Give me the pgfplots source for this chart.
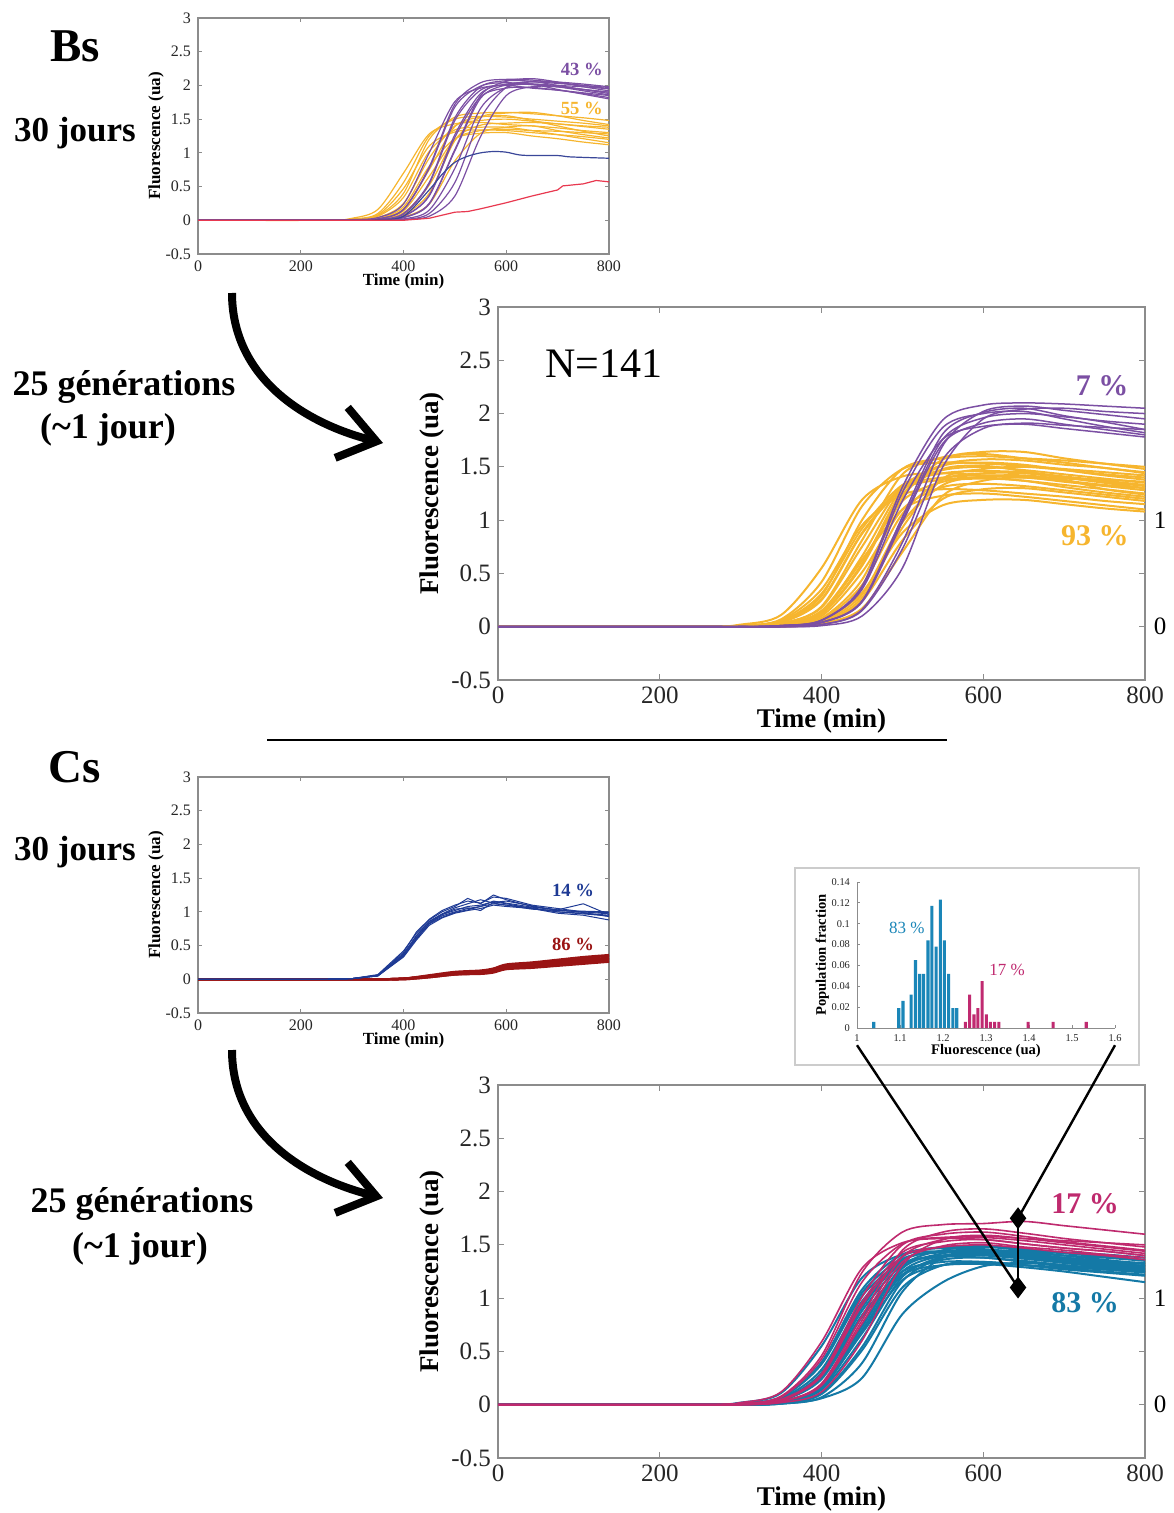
\documentclass[border=0pt]{standalone}
\usepackage{fontspec}
\setmainfont{Liberation Serif}
\usepackage{pgfplots}
\usepackage{pgfplotstable}
\pgfplotsset{compat=1.18}
\usetikzlibrary{arrows.meta}

\definecolor{cPur}{HTML}{7B4FA3}
\definecolor{cYel}{HTML}{F6B52E}
\definecolor{cBlu1}{HTML}{3A4799}
\definecolor{cRed1}{HTML}{E8384F}
\definecolor{cNavy}{HTML}{1E3A94}
\definecolor{cDred}{HTML}{9A1414}
\definecolor{cTeal}{HTML}{1479A6}
\definecolor{cMag}{HTML}{BF2A6E}
\definecolor{hBlu}{HTML}{1A86B8}
\definecolor{hMag}{HTML}{C02A70}

% ---------- data: one row per curve, transposed below ----------
\pgfplotstableread{
id 0 250 300 350 400 450 500 550 600 650 700 750 800
1 0 0 0.01 0.04 0.24 1.00 1.76 1.96 2.00 1.96 1.93 1.89 1.85
2 0 0 0.00 0.02 0.16 0.77 1.68 1.99 2.04 2.01 1.98 1.94 1.90
3 0 0 0 0.01 0.09 0.54 1.48 1.93 2.01 2.02 2.00 1.98 1.95
4 0 0 0 0.01 0.10 0.56 1.52 1.98 2.07 2.06 2.00 1.94 1.88
5 0 0 0 0.01 0.06 0.36 1.23 1.83 1.96 1.97 1.93 1.88 1.82
6 0 0 0 0.01 0.04 0.24 1.03 1.81 2.01 2.05 2.03 2.00 1.97
7 0 0 0 0.01 0.04 0.25 1.05 1.85 2.06 2.10 2.05 1.98 1.92
8 0 0 0 0 0.02 0.15 0.77 1.66 1.97 2.02 1.98 1.92 1.86
9 0 0 0 0 0.01 0.10 0.56 1.51 1.97 2.06 2.05 2.02 1.98
10 0 0 0 0 0.01 0.06 0.36 1.24 1.85 1.98 1.98 1.94 1.90
11 0 0 0 0.02 0.16 0.79 1.72 2.04 2.09 2.08 2.04 2.00 1.95
12 0 0 0 0.01 0.06 0.37 1.27 1.88 2.02 2.02 1.94 1.87 1.80
}\rawBsSP
\pgfplotstableread{
id 0 250 300 350 400 450 500 550 600 650 700 750 800
1 0 0 0.03 0.16 0.70 1.28 1.43 1.45 1.42 1.40 1.37 1.33 1.30
2 0 0 0.02 0.10 0.56 1.25 1.50 1.54 1.53 1.50 1.47 1.44 1.40
3 0 0 0.01 0.08 0.47 1.10 1.31 1.34 1.33 1.30 1.27 1.24 1.20
4 0 0 0.01 0.07 0.40 1.20 1.53 1.59 1.60 1.58 1.55 1.52 1.48
5 0 0 0.01 0.06 0.34 1.02 1.34 1.38 1.38 1.33 1.27 1.21 1.15
6 0 0 0.01 0.04 0.25 0.92 1.40 1.48 1.50 1.47 1.43 1.39 1.35
7 0 0 0 0.03 0.20 0.80 1.21 1.29 1.30 1.25 1.21 1.16 1.12
8 0 0 0 0.03 0.17 0.75 1.39 1.53 1.55 1.48 1.40 1.32 1.25
9 0 0 0 0.02 0.11 0.52 1.20 1.41 1.44 1.45 1.43 1.40 1.38
10 0 0 0 0.01 0.08 0.40 1.18 1.53 1.59 1.60 1.55 1.48 1.42
11 0 0 0 0.01 0.05 0.24 0.88 1.29 1.38 1.40 1.33 1.27 1.22
12 0 0 0 0.03 0.14 0.65 1.20 1.33 1.35 1.33 1.32 1.30 1.28
}\rawBsSY
\pgfplotstableread{
id 0 250 300 350 400 450 500 550 600 650 700 750 800
1 0 0 0.02 0.11 0.55 1.19 1.41 1.44 1.42 1.40 1.37 1.33 1.30
2 0 0 0.01 0.07 0.42 1.13 1.48 1.54 1.53 1.51 1.48 1.45 1.42
3 0 0 0.01 0.06 0.35 0.95 1.24 1.29 1.28 1.25 1.22 1.18 1.15
4 0 0 0.01 0.05 0.29 1.00 1.48 1.58 1.60 1.58 1.56 1.53 1.50
5 0 0 0.01 0.04 0.25 0.87 1.29 1.38 1.40 1.37 1.33 1.29 1.25
6 0 0 0 0.03 0.18 0.75 1.32 1.47 1.50 1.47 1.43 1.39 1.35
7 0 0 0 0.02 0.15 0.63 1.10 1.23 1.25 1.22 1.18 1.14 1.10
8 0 0 0 0.03 0.19 0.81 1.43 1.59 1.62 1.58 1.54 1.49 1.45
9 0 0 0 0.01 0.10 0.51 1.10 1.31 1.34 1.32 1.28 1.24 1.20
10 0 0 0 0.02 0.12 0.59 1.27 1.51 1.54 1.52 1.47 1.42 1.38
11 0 0 0 0.01 0.07 0.39 1.06 1.38 1.44 1.44 1.40 1.36 1.32
12 0 0 0 0.01 0.06 0.32 0.88 1.14 1.19 1.19 1.15 1.11 1.08
13 0 0 0 0.01 0.04 0.27 0.93 1.39 1.48 1.50 1.47 1.43 1.40
14 0 0 0 0.01 0.04 0.24 0.81 1.20 1.29 1.30 1.26 1.22 1.18
15 0 0 0 0 0.03 0.17 0.70 1.23 1.37 1.40 1.36 1.32 1.28
16 0 0 0.01 0.04 0.26 0.88 1.31 1.40 1.42 1.41 1.39 1.38 1.36
17 0 0 0 0.02 0.12 0.57 1.24 1.48 1.51 1.46 1.40 1.35 1.30
18 0 0 0 0.01 0.08 0.44 1.21 1.57 1.64 1.64 1.58 1.53 1.48
19 0 0 0.01 0.05 0.31 0.92 1.33 1.44 1.46 1.45 1.41 1.37 1.33
20 0 0 0 0.02 0.14 0.62 1.18 1.36 1.39 1.37 1.31 1.26 1.22
21 0 0 0 0.02 0.13 0.66 1.30 1.52 1.57 1.56 1.52 1.49 1.44
22 0 0 0 0.01 0.05 0.30 0.98 1.33 1.41 1.42 1.38 1.29 1.24
}\rawBsBY
\pgfplotstableread{
id 0 250 300 350 400 450 500 550 600 650 700 750 800
1 0 0 0 0.01 0.06 0.38 1.31 1.94 2.08 2.10 2.09 2.07 2.05
2 0 0 0 0.01 0.04 0.24 1.03 1.81 2.01 2.05 1.98 1.92 1.85
3 0 0 0 0 0.04 0.23 0.98 1.72 1.91 1.95 1.90 1.85 1.80
4 0 0 0 0 0.02 0.16 0.79 1.70 2.02 2.07 2.03 1.99 1.95
5 0 0 0 0.01 0.06 0.35 1.18 1.76 1.88 1.90 1.86 1.82 1.78
6 0 0 0 0 0.04 0.24 1.00 1.76 1.96 2.00 1.97 1.93 1.90
7 0 0 0 0 0.02 0.15 0.73 1.57 1.86 1.91 1.89 1.87 1.85
8 0 0 0 0 0.01 0.10 0.55 1.50 1.95 2.04 2.05 2.02 2.00
9 0 0 0 0.01 0.06 0.37 1.26 1.87 2.00 2.02 1.95 1.88 1.82
}\rawBsBP
\pgfplotstableread{
id 0 250 300 350 400 425 450 475 500 525 550 575 600 650 700 750 800
1 0 0 0.01 0.06 0.38 0.64 0.85 0.96 1.02 1.08 1.10 1.15 1.12 1.05 1.00 0.98 0.95
2 0 0 0.01 0.05 0.35 0.60 0.83 0.94 1.00 1.05 1.08 1.12 1.10 1.04 1.02 1.00 0.97
3 0 0 0.01 0.07 0.42 0.68 0.88 1.00 1.08 1.20 1.12 1.25 1.18 1.08 1.03 1.12 0.96
4 0 0 0.01 0.05 0.33 0.58 0.80 0.91 0.98 1.02 1.05 1.10 1.08 1.05 0.98 0.95 0.88
5 0 0 0.01 0.06 0.40 0.70 0.89 1.02 1.10 1.16 1.13 1.22 1.20 1.10 1.05 1.00 0.99
6 0 0 0.01 0.05 0.36 0.62 0.83 0.96 1.04 1.06 1.02 1.14 1.16 1.09 1.02 1.01 1.00
7 0 0 0.01 0.06 0.37 0.65 0.86 0.97 1.06 1.12 1.18 1.13 1.10 1.06 1.00 0.97 0.94
8 0 0 0.01 0.05 0.34 0.60 0.82 0.92 0.99 1.03 1.08 1.16 1.13 1.07 1.03 0.99 0.93
}\rawCsSB
\pgfplotstableread{
id 0 250 350 400 450 500 550 575 600 650 700 750 800
1 0 0 0 0.01 0.04 0.08 0.10 0.12 0.17 0.19 0.22 0.25 0.28
2 0 0 0 0.01 0.05 0.09 0.11 0.13 0.18 0.21 0.24 0.27 0.30
3 0 0 0 0.00 0.03 0.07 0.09 0.11 0.16 0.18 0.21 0.24 0.27
4 0 0 0 0.01 0.05 0.10 0.12 0.15 0.21 0.24 0.27 0.31 0.35
5 0 0 0 0.01 0.04 0.09 0.10 0.12 0.19 0.22 0.25 0.29 0.32
6 0 0 0 0.00 0.03 0.07 0.08 0.10 0.15 0.17 0.20 0.23 0.26
7 0 0 0 0.01 0.06 0.11 0.13 0.16 0.22 0.25 0.29 0.33 0.36
8 0 0 0 0.01 0.04 0.08 0.11 0.14 0.19 0.21 0.24 0.28 0.31
}\rawCsSR
\pgfplotstableread{
id 0 250 300 350 400 450 500 550 600 650 700 750 800
1 0 0 0.02 0.11 0.55 1.19 1.41 1.44 1.42 1.39 1.36 1.33 1.30
2 0 0 0.01 0.07 0.38 1.02 1.33 1.39 1.38 1.35 1.31 1.28 1.25
3 0 0 0.01 0.07 0.40 1.08 1.41 1.47 1.46 1.43 1.40 1.38 1.35
4 0 0 0.01 0.04 0.26 0.88 1.31 1.40 1.41 1.38 1.34 1.31 1.28
5 0 0 0.01 0.04 0.25 0.84 1.25 1.34 1.34 1.31 1.28 1.25 1.22
6 0 0 0.01 0.04 0.27 0.93 1.39 1.48 1.49 1.46 1.43 1.41 1.38
7 0 0 0 0.03 0.17 0.73 1.28 1.42 1.45 1.41 1.37 1.34 1.30
8 0 0 0 0.02 0.16 0.69 1.22 1.36 1.38 1.34 1.31 1.27 1.24
9 0 0 0 0.03 0.18 0.74 1.30 1.45 1.48 1.45 1.42 1.39 1.36
10 0 0 0 0.02 0.11 0.54 1.16 1.38 1.41 1.38 1.34 1.30 1.27
11 0 0 0 0.01 0.10 0.51 1.10 1.31 1.34 1.31 1.27 1.24 1.21
12 0 0 0 0.01 0.07 0.39 1.06 1.38 1.44 1.44 1.40 1.36 1.32
13 0 0 0.01 0.07 0.39 1.05 1.37 1.43 1.43 1.41 1.38 1.35 1.33
14 0 0 0 0.02 0.16 0.67 1.17 1.31 1.33 1.31 1.29 1.27 1.25
15 0 0 0.01 0.04 0.27 0.91 1.35 1.44 1.45 1.41 1.37 1.34 1.30
16 0 0 0.01 0.04 0.24 0.82 1.22 1.31 1.32 1.29 1.25 1.20 1.15
17 0 0 0 0.01 0.06 0.25 0.85 1.15 1.30 1.33 1.30 1.27 1.25
18 0 0 0.01 0.05 0.30 0.95 1.36 1.44 1.44 1.40 1.35 1.31 1.27
19 0 0 0 0.02 0.15 0.70 1.25 1.40 1.42 1.39 1.35 1.32 1.29
20 0 0 0.01 0.06 0.33 0.97 1.32 1.39 1.40 1.37 1.33 1.29 1.26
21 0 0 0 0.02 0.14 0.62 1.20 1.39 1.43 1.42 1.38 1.35 1.32
}\rawCsBB
\pgfplotstableread{
id 0 250 300 350 400 450 500 550 600 650 700 750 800
1 0 0 0.01 0.07 0.43 1.15 1.51 1.57 1.57 1.54 1.50 1.46 1.42
2 0 0 0.01 0.05 0.29 1.01 1.50 1.60 1.62 1.58 1.53 1.49 1.45
3 0 0 0.01 0.04 0.28 0.96 1.43 1.53 1.55 1.51 1.47 1.44 1.40
4 0 0 0 0.03 0.20 0.83 1.45 1.62 1.65 1.61 1.56 1.52 1.48
5 0 0 0 0.03 0.18 0.76 1.34 1.49 1.52 1.48 1.45 1.41 1.38
6 0 0 0 0.02 0.12 0.60 1.31 1.55 1.59 1.56 1.52 1.48 1.44
7 0 0 0.01 0.08 0.46 1.24 1.62 1.69 1.70 1.72 1.68 1.64 1.60
8 0 0 0.02 0.12 0.59 1.28 1.52 1.56 1.55 1.51 1.47 1.44 1.40
9 0 0 0 0.03 0.19 0.79 1.39 1.55 1.58 1.56 1.54 1.52 1.50
10 0 0 0.01 0.04 0.27 0.93 1.39 1.48 1.50 1.47 1.43 1.40 1.36
}\rawCsBM

\pgfplotstabletranspose[colnames from=id]\BsSP\rawBsSP
\pgfplotstabletranspose[colnames from=id]\BsSY\rawBsSY
\pgfplotstabletranspose[colnames from=id]\BsBY\rawBsBY
\pgfplotstabletranspose[colnames from=id]\BsBP\rawBsBP
\pgfplotstabletranspose[colnames from=id]\CsSB\rawCsSB
\pgfplotstabletranspose[colnames from=id]\CsSR\rawCsSR
\pgfplotstabletranspose[colnames from=id]\CsBB\rawCsBB
\pgfplotstabletranspose[colnames from=id]\CsBM\rawCsBM

\pgfplotsset{
  /pgf/number format/assume math mode=true,
  curveaxis/.style={
    scale only axis, clip=false,
    xmin=0, xmax=800, ymin=-0.5, ymax=3,
    xtick={0,200,400,600,800},
    ytick={-0.5,0,0.5,1,1.5,2,2.5,3},
    tick align=inside,
    axis line style={draw=black!45, line width=0.6pt},
    tick style={draw=black!45, line width=0.5pt},
    tick label style={color=black!85},
    xlabel={\textbf{Time (min)}},
    ylabel={\textbf{Fluorescence (ua)}},
  },
  bigaxis/.style={curveaxis, width=323.5pt, height=186.5pt,
    major tick length=3pt,
    tick label style={font=\fontsize{12.5}{14}\selectfont},
    label style={font=\fontsize{13.5}{15}\selectfont},
    x label style={at={(axis description cs:0.5,-0.11)}, anchor=center},
    y label style={at={(axis description cs:-0.102,0.5)}, anchor=center},
  },
  smallaxis/.style={curveaxis, width=205.5pt, height=118pt,
    major tick length=2pt,
    tick label style={font=\fontsize{8}{9}\selectfont},
    label style={font=\fontsize{8.5}{10}\selectfont},
    x label style={at={(axis description cs:0.5,-0.118)}, anchor=center},
    y label style={at={(axis description cs:-0.102,0.5)}, anchor=center},
  },
}

\begin{document}
\begin{tikzpicture}
\path[use as bounding box] (0pt,0pt) rectangle (586.5pt,-756.5pt);

% ===== Bs, 30 jours =====
\begin{axis}[smallaxis, at={(99pt,-127pt)}, anchor=south west]
\pgfplotsinvokeforeach{1,...,12}{\addplot[cYel, line width=0.6pt, smooth] table[x=colnames, y index=#1]{\BsSY};}
\pgfplotsinvokeforeach{1,...,12}{\addplot[cPur, line width=0.6pt, smooth] table[x=colnames, y index=#1]{\BsSP};}
\addplot[cBlu1, line width=0.6pt, smooth] coordinates {(0,0)(300,0)(350,0.01)(400,0.06)(450,0.45)(475,0.68)(500,0.86)(525,0.95)(550,1.00)(575,1.02)(600,1.01)(625,0.97)(650,0.96)(700,0.96)(725,0.94)(800,0.92)};
\addplot[cRed1, line width=0.6pt] coordinates {(0,0)(400,0)(450,0.03)(500,0.12)(525,0.13)(550,0.17)(600,0.26)(650,0.36)(700,0.45)(710,0.51)(750,0.54)(775,0.59)(800,0.57)};
\node[text=cPur, font=\fontsize{9.3}{10}\selectfont\bfseries] at (axis cs:747,2.23) {43 \%};
\node[text=cYel, font=\fontsize{9.3}{10}\selectfont\bfseries] at (axis cs:747,1.665) {55 \%};
\end{axis}

% ===== Bs, 25 generations =====
\begin{axis}[bigaxis, at={(249pt,-340pt)}, anchor=south west]
\pgfplotsinvokeforeach{1,...,22}{\addplot[cYel, line width=1.0pt, smooth] table[x=colnames, y index=#1]{\BsBY};}
\pgfplotsinvokeforeach{1,...,9}{\addplot[cPur, line width=0.75pt, smooth] table[x=colnames, y index=#1]{\BsBP};}
\node[anchor=west, font=\fontsize{21}{23}\selectfont] at (axis cs:49.4,2.47) {N=141};
\node[text=cPur, font=\fontsize{15}{17}\selectfont\bfseries] at (axis cs:747,2.26) {7 \%};
\node[text=cYel, font=\fontsize{15}{17}\selectfont\bfseries] at (axis cs:738,0.85) {93 \%};
\node[font=\fontsize{12.5}{14}\selectfont, xshift=7.5pt] at (axis cs:800,1) {1};
\node[font=\fontsize{12.5}{14}\selectfont, xshift=7.5pt] at (axis cs:800,0) {0};
\end{axis}

% ===== Cs, 30 jours =====
\begin{axis}[smallaxis, at={(99pt,-506.5pt)}, anchor=south west]
\pgfplotsinvokeforeach{1,...,8}{\addplot[cDred, line width=1.1pt, smooth] table[x=colnames, y index=#1]{\CsSR};}
\pgfplotsinvokeforeach{1,...,8}{\addplot[cNavy, line width=0.5pt] table[x=colnames, y index=#1]{\CsSB};}
\node[text=cNavy, font=\fontsize{9.3}{10}\selectfont\bfseries] at (axis cs:730,1.32) {14 \%};
\node[text=cDred, font=\fontsize{9.3}{10}\selectfont\bfseries] at (axis cs:730,0.52) {86 \%};
\end{axis}

% ===== inset histogram =====
\draw[black!20, line width=0.8pt, fill=white] (397.5pt,-434pt) rectangle (569.5pt,-532.5pt);
\begin{axis}[scale only axis, width=129pt, height=73pt, at={(428.5pt,-514pt)}, anchor=south west,
  xmin=1, xmax=1.6, ymin=0, ymax=0.14, clip=false,
  axis lines*=left, axis line style={draw=black!45, line width=0.5pt},
  tick style={draw=black!45, line width=0.4pt}, major tick length=1.5pt, tick align=inside,
  xtick={1,1.1,1.2,1.3,1.4,1.5,1.6}, ytick={0,0.02,0.04,0.06,0.08,0.1,0.12,0.14},
  scaled ticks=false,
  tick label style={font=\fontsize{5.2}{6}\selectfont, color=black!85, /pgf/number format/fixed},
  xlabel={\textbf{Fluorescence (ua)}}, ylabel={\textbf{Population fraction}},
  label style={font=\fontsize{7.3}{8}\selectfont},
  x label style={at={(axis description cs:0.5,-0.16)}, anchor=center},
  y label style={at={(axis description cs:-0.135,0.5)}, anchor=center}]
\addplot[ybar, bar width=0.0072, bar shift=0pt, fill=hBlu, draw=none] coordinates {
 (1.039,0.006)(1.097,0.019)(1.107,0.026)(1.126,0.032)(1.136,0.065)(1.146,0.052)(1.155,0.052)(1.165,0.084)(1.174,0.117)(1.184,0.078)(1.194,0.123)(1.203,0.084)(1.213,0.052)(1.223,0.019)(1.232,0.019)};
\addplot[ybar, bar width=0.0072, bar shift=0pt, fill=hMag, draw=none] coordinates {
 (1.252,0.006)(1.262,0.032)(1.272,0.013)(1.281,0.019)(1.291,0.045)(1.301,0.013)(1.310,0.006)(1.320,0.006)(1.330,0.006)(1.398,0.006)(1.456,0.006)(1.533,0.006)};
\node[text=hBlu, font=\fontsize{8.5}{9}\selectfont] at (axis cs:1.116,0.096) {83 \%};
\node[text=hMag, font=\fontsize{8.5}{9}\selectfont] at (axis cs:1.349,0.0556) {17 \%};
\coordinate (h1) at (axis cs:1,-0.0165);
\coordinate (h2) at (axis cs:1.6,-0.0165);
\end{axis}

% ===== Cs, 25 generations =====
\begin{axis}[bigaxis, at={(249pt,-729pt)}, anchor=south west]
\pgfplotsinvokeforeach{1,...,21}{\addplot[cTeal, line width=1.0pt, smooth] table[x=colnames, y index=#1]{\CsBB};}
\pgfplotsinvokeforeach{1,...,10}{\addplot[cMag, line width=0.8pt, smooth] table[x=colnames, y index=#1]{\CsBM};}
\addplot[black, line width=1.2pt, mark=diamond*, mark size=4.5pt, mark options={fill=black}] coordinates {(643,1.10)(643,1.75)};
\coordinate (dlow) at (axis cs:643,1.10);
\coordinate (dhigh) at (axis cs:643,1.75);
\node[text=cMag, font=\fontsize{15}{17}\selectfont\bfseries] at (axis cs:726,1.89) {17 \%};
\node[text=cTeal, font=\fontsize{15}{17}\selectfont\bfseries] at (axis cs:726,0.96) {83 \%};
\node[font=\fontsize{12.5}{14}\selectfont, xshift=7.5pt] at (axis cs:800,1) {1};
\node[font=\fontsize{12.5}{14}\selectfont, xshift=7.5pt] at (axis cs:800,0) {0};
\end{axis}

\draw[line width=1.2pt] (h1) -- (dlow);
\draw[line width=1.2pt] (h2) -- (dhigh);

% ===== annotations =====
\node[anchor=base, font=\fontsize{23.5}{26}\selectfont\bfseries] at (37.5pt,-31pt) {Bs};
\node[anchor=base, font=\fontsize{17.5}{20}\selectfont\bfseries] at (37.5pt,-71pt) {30 jours};
\node[anchor=base, font=\fontsize{18}{20}\selectfont\bfseries] at (62pt,-198pt) {25 générations};
\node[anchor=base, font=\fontsize{18}{20}\selectfont\bfseries] at (54pt,-219pt) {(\textasciitilde1 jour)};
\node[anchor=base, font=\fontsize{23.5}{26}\selectfont\bfseries] at (37.5pt,-391pt) {Cs};
\node[anchor=base, font=\fontsize{17.5}{20}\selectfont\bfseries] at (37.5pt,-430pt) {30 jours};
\node[anchor=base, font=\fontsize{18}{20}\selectfont\bfseries] at (71pt,-606pt) {25 générations};
\node[anchor=base, font=\fontsize{18}{20}\selectfont\bfseries] at (70pt,-628.5pt) {(\textasciitilde1 jour)};

\draw[line width=4pt, -{Straight Barb[length=18pt,width=26pt]}] (116pt,-146.5pt) to[out=-90,in=166] (191.5pt,-221.5pt);
\draw[line width=4pt, -{Straight Barb[length=18pt,width=26pt]}] (116pt,-525pt) to[out=-90,in=166] (191.5pt,-599pt);

\draw[line width=1pt] (133.5pt,-370pt) -- (473.5pt,-370pt);
\end{tikzpicture}
\end{document}
